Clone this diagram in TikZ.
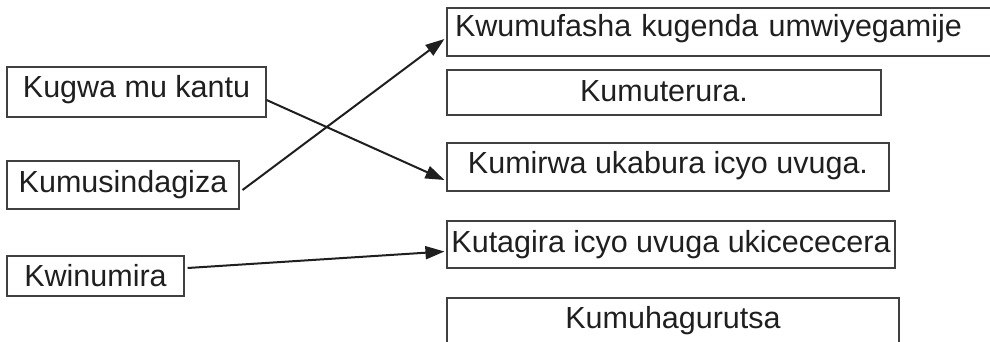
\documentclass[tikz,border=0pt]{standalone}
\usepackage{fontspec}
\setmainfont{Liberation Sans}
\usetikzlibrary{arrows.meta}
\begin{document}
\begin{tikzpicture}[x=1pt,y=-1pt,
  box/.style={draw=black!75, line width=1.1pt, inner sep=0pt, text=black!88,
    font=\fontsize{30.5}{36}\selectfont, text height=22pt, align=center},
  arr/.style={draw=black!88, line width=2pt, -{Triangle[length=19pt,width=13pt]}}]
\useasboundingbox (0,0) rectangle (990,342);
\clip (0,0) rectangle (990,342);
% left column
\node[box, minimum width=259pt, minimum height=50pt, text depth=10pt] (kugwa) at (136.5,92) {Kugwa mu kantu};
\node[box, minimum width=232pt, minimum height=48pt, text depth=8pt] (kumus) at (123,185) {Kumusindagiza};
\node[box, minimum width=177pt, minimum height=40pt, text depth=2pt] (kwin) at (95.5,276) {Kwinumira};
% right column
\node[box, text width=530pt, align=left, inner xsep=8pt, minimum height=48pt, text depth=12pt] (kwum) at (720,32) {Kwumufasha kugenda umwiyegamije};
\node[box, minimum width=434pt, minimum height=45pt, text depth=3pt] (kumut) at (664,92.5) {Kumuterura.};
\node[box, minimum width=442pt, minimum height=48pt, text depth=10pt] (kumir) at (668,167) {Kumirwa ukabura icyo uvuga.};
\node[box, minimum width=448pt, minimum height=47pt, text depth=7pt] (kutag) at (671,244.5) {Kutagira icyo uvuga ukicececera};
\node[box, minimum width=452pt, minimum height=50pt, text depth=12pt] (kumuh) at (673,323) {Kumuhagurutsa};
% connectors
\draw[arr] ([yshift=-8pt]kugwa.east) -- ([xshift=-2pt,yshift=-13pt]kumir.west);
\draw[arr] ([xshift=3pt,yshift=-5pt]kumus.east) -- ([xshift=-2pt,yshift=-7pt]kwum.west);
\draw[arr] ([xshift=3pt,yshift=8pt]kwin.east) -- ([xshift=-2pt,yshift=-7pt]kutag.west);
\end{tikzpicture}
\end{document}
